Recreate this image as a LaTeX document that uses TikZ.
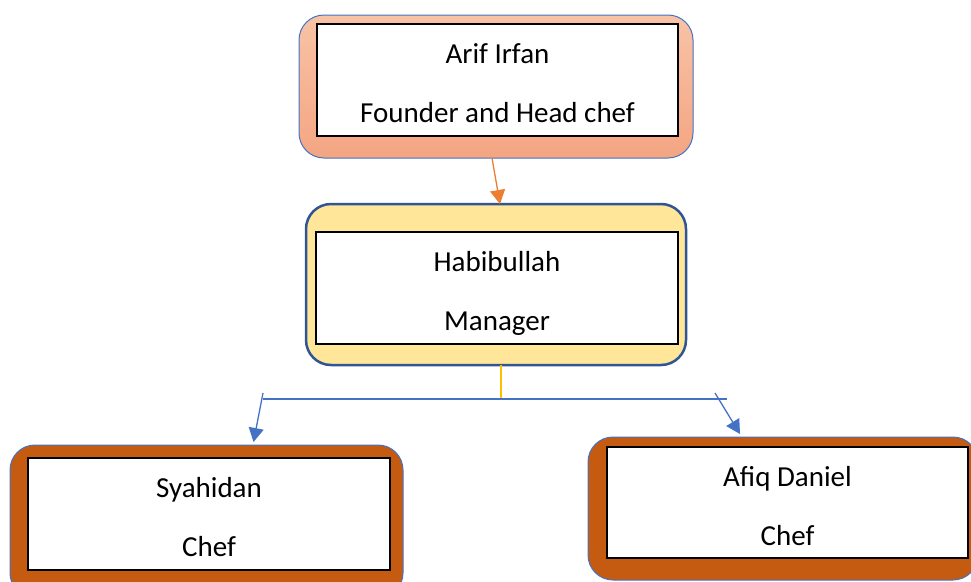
\documentclass[tikz,border=0pt]{standalone}
\usepackage{fontspec}
\setmainfont{Carlito}
\usetikzlibrary {arrows.meta, positioning, calc}
\definecolor{lineblue}{HTML}{4472C4}
\definecolor{darkblue}{HTML}{2F5597}
\definecolor{salmontop}{HTML}{F8C3A6}
\definecolor{salmonbot}{HTML}{F4A582}
\definecolor{cream}{HTML}{FFE699}
\definecolor{rust}{HTML}{C55A11}
\definecolor{arroworange}{HTML}{ED7D31}
\definecolor{gold}{HTML}{FFC000}
\tikzset{
    >={Triangle[length=14pt, width=15pt]},
    card/.style={rectangle, rounded corners=25pt, inner sep=0pt, outer sep=0pt,
        draw=lineblue, line width=1pt},
    sheet/.style={rectangle, draw=black, fill=white, line width=1.2pt,
        inner sep=0pt, outer sep=0pt, minimum width=361pt, minimum height=112pt},
    persontext/.style={anchor=base, inner sep=0pt, font=\fontsize{29}{35}\selectfont},
    link/.style={line width=1.3pt}
}
\begin{document}
\begin{tikzpicture}[x=1pt, y=-1pt]
    \useasboundingbox (0, 0) rectangle (971, 581);
    \clip (0, 0) rectangle (971, 581);
    % outer boxes
    \node[card, top color=salmontop, bottom color=salmonbot,
        minimum width=394pt, minimum height=143pt] (arif) at (496, 86.5) {};
    \node[card, fill=cream, draw=darkblue, line width=2.5pt,
        minimum width=380pt, minimum height=161pt] (habib) at (496, 284.5) {};
    \node[card, fill=rust, minimum width=393pt, minimum height=153pt] (syah) at (206.5, 521.5) {};
    \node[card, fill=rust, minimum width=390pt, minimum height=143pt] (afiq) at (783, 508.5) {};
    % inner boxes
    \node[sheet] (arifin) at (497.5, 80) {};
    \node[sheet, minimum width=362pt] (habibin) at (497, 288) {};
    \node[sheet, minimum width=362pt] (syahin) at (209, 514) {};
    \node[sheet, minimum height=111pt] (afiqin) at (787.5, 502.5) {};
    % names and roles
    \foreach \sheetname/\who/\role in {arifin/Arif Irfan/Founder and Head chef,
        habibin/Habibullah/Manager, syahin/Syahidan/Chef, afiqin/Afiq Daniel/Chef} {
        \node[persontext] at ($(\sheetname.north)+(0, 39)$) {\who};
        \node[persontext] at ($(\sheetname.north)+(0, 98)$) {\role};
    }
    % connectors
    \draw[->, link, arroworange] ($(arif.south)+(-4, 0)$) -- ($(habib.north)+(4, 0)$);
    \coordinate (split) at (501, 399);
    \coordinate (lft) at (263, 399);
    \coordinate (rgt) at (727, 399);
    \coordinate (lfttop) at (263, 393);
    \coordinate (rgttop) at (715, 393);
    \draw[link, gold] ($(habib.south)+(5, 0)$) -- (split);
    \draw[link, lineblue] (lft) -- (rgt);
    \draw[->, link, lineblue] (lfttop) -- ($(syah.north)+(47, -3)$);
    \draw[->, link, lineblue] (rgttop) -- ($(afiq.north)+(-43, -3)$);
\end{tikzpicture}
\end{document}
